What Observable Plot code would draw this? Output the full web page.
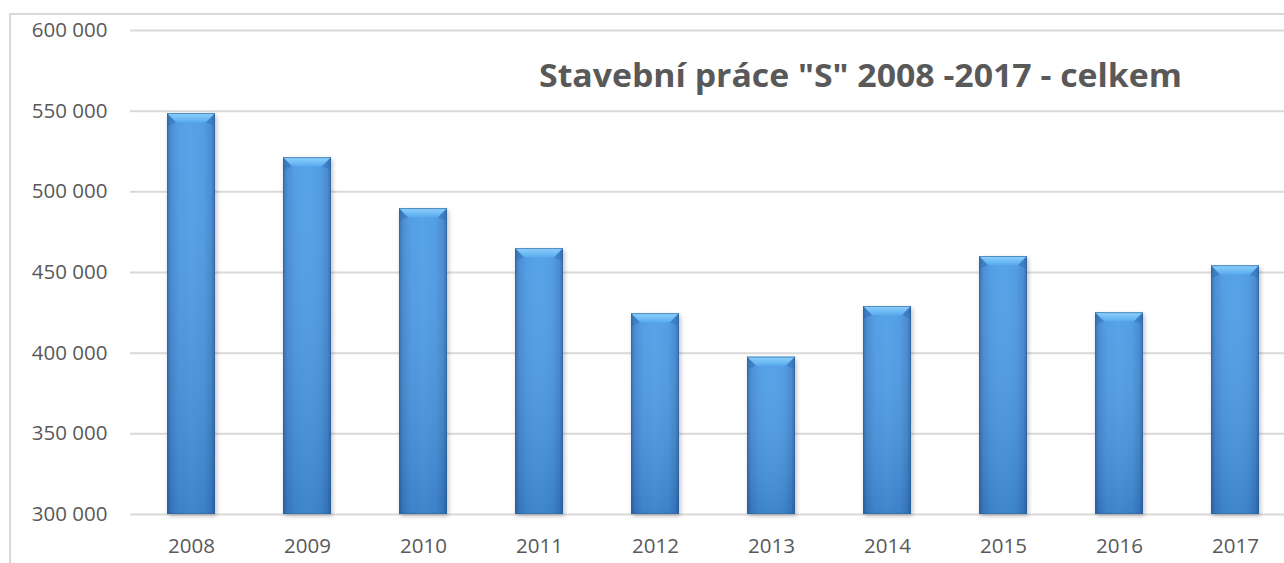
<!DOCTYPE html>
<html><head><meta charset="utf-8">
<script src="https://cdn.jsdelivr.net/npm/d3@7"></script>
<script src="https://cdn.jsdelivr.net/npm/@observablehq/plot@0.6"></script>
<style>
body{margin:0;background:#fff}
#wrap{position:relative;width:1284px;height:563px;overflow:hidden}
</style>
</head><body><div id="wrap"></div>
<script>
const years = ["2008","2009","2010","2011","2012","2013","2014","2015","2016","2017"];
const values = [548400, 521100, 489500, 464700, 424400, 397500, 428900, 459900, 425000, 454100];
const yTicks = [300000, 350000, 400000, 450000, 500000, 550000, 600000];
const title = 'Stavební práce "S" 2008 -2017 - celkem';

const data = years.map((y, i) => ({year: y, value: values[i]}));
const fmt = d => d3.format(",")(d).replace(/,/g, " ");

const chart = Plot.plot({
  width: 1284,
  height: 563,
  marginTop: 30,
  marginBottom: 49,
  marginLeft: 130,
  marginRight: 0,
  style: {fontFamily: "Open Sans", fontSize: "20.5px", color: "#595959", background: "transparent", overflow: "hidden"},
  x: {domain: years, range: [129.7, 1295.3], paddingInner: 0.588, paddingOuter: 0.294, label: null},
  y: {domain: [300000, 600000], label: null},
  marks: [
    Plot.gridY(yTicks, {stroke: "#d9d9d9", strokeOpacity: 1, strokeWidth: 2}),
    Plot.barY(data, {x: "year", y1: 300000, y2: "value", fill: "url(#barGrad)"}),
    Plot.axisY(yTicks, {tickSize: 0, tickPadding: 23, tickFormat: fmt, fill: "#595959", fontSize: 20.5, label: null}),
    Plot.axisX({tickSize: 0, tickPadding: 24, fill: "#595959", fontSize: 20.5, label: null})
  ]
});

const svg = d3.select(chart);
const defs = svg.insert("defs", ":first-child");
const g1 = defs.append("linearGradient").attr("id", "barGrad").attr("x1", 0).attr("y1", 0).attr("x2", 1).attr("y2", 0);
[["0%", "#2d65a8"], ["8%", "#3f86d0"], ["25%", "#4a98e2"], ["50%", "#4d9de6"], ["75%", "#4a98e2"], ["92%", "#3f86d0"], ["100%", "#2d65a8"]]
  .forEach(([o, c]) => g1.append("stop").attr("offset", o).attr("stop-color", c));
const g2 = defs.append("linearGradient").attr("id", "shade").attr("x1", 0).attr("y1", 0).attr("x2", 0).attr("y2", 1);
[["0%", "rgba(255,255,255,0.06)"], ["100%", "rgba(10,40,90,0.2)"]]
  .forEach(([o, c]) => g2.append("stop").attr("offset", o).attr("stop-color", c));
const g3 = defs.append("linearGradient").attr("id", "capGrad").attr("x1", 0).attr("y1", 0).attr("x2", 0).attr("y2", 1);
[["0%", "#8fd2fb"], ["100%", "#58abef"]]
  .forEach(([o, c]) => g3.append("stop").attr("offset", o).attr("stop-color", c));
const f = defs.append("filter").attr("id", "shadow").attr("x", "-20%").attr("y", "-20%").attr("width", "140%").attr("height", "140%");
f.append("feDropShadow").attr("dx", 1.5).attr("dy", 2).attr("stdDeviation", 2).attr("flood-color", "#000").attr("flood-opacity", 0.25);

// outer chart-area border (left + top)
svg.insert("path", "defs + *").attr("d", "M10,563V14H1284").attr("fill", "none").attr("stroke", "#d9d9d9").attr("stroke-width", 2);

// bar decoration: shading, top bevel and shadow
svg.selectAll("rect").each(function() {
  const r = d3.select(this);
  const x = +r.attr("x"), y = +r.attr("y"), w = +r.attr("width"), h = +r.attr("height");
  if (!(w > 0 && h > 0)) return;
  r.attr("filter", "url(#shadow)");
  const p = d3.select(this.parentNode);
  p.append("rect").attr("x", x).attr("y", y).attr("width", w).attr("height", h).attr("fill", "url(#shade)");
  const b = 9;
  p.append("path").attr("d", `M${x},${y}H${x + w}L${x + w - b},${y + b}H${x + b}Z`).attr("fill", "url(#capGrad)");
  p.append("path").attr("d", `M${x},${y}L${x + b},${y + b}L${x},${y + b + 4}Z`).attr("fill", "rgba(40,100,170,0.35)");
  p.append("path").attr("d", `M${x + w},${y}L${x + w - b},${y + b}L${x + w},${y + b + 4}Z`).attr("fill", "rgba(40,100,170,0.35)");
  p.append("rect").attr("x", x + 0.4).attr("y", y + 0.4).attr("width", w - 0.8).attr("height", h - 0.8).attr("fill", "none").attr("stroke", "#2f67a8").attr("stroke-width", 0.8).attr("stroke-opacity", 0.8);
});

// title
svg.append("text").attr("x", 539).attr("y", 87).attr("text-anchor", "start").attr("font-family", "Open Sans").attr("font-weight", "bold")
  .attr("font-size", 32).attr("fill", "#595959").attr("textLength", 643).attr("lengthAdjust", "spacingAndGlyphs")
  .text(title);

document.getElementById("wrap").appendChild(chart);
</script>
</body></html>
